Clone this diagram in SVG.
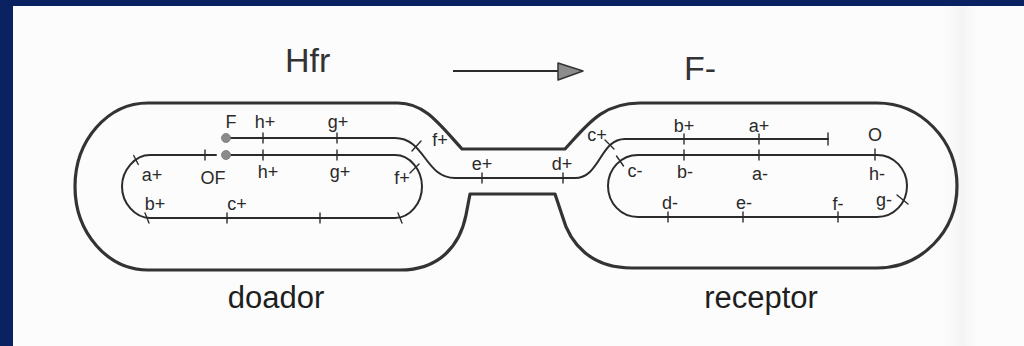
<svg xmlns="http://www.w3.org/2000/svg" width="1024" height="346" viewBox="0 0 1024 346">
  <defs>
    <style>
      .outline { fill: none; stroke: #333; stroke-width: 3.2; stroke-linejoin: round; }
      .dna { fill: none; stroke: #2b2b2b; stroke-width: 2; stroke-linecap: round; }
      .tick { fill: none; stroke: #2b2b2b; stroke-width: 1.4; stroke-linecap: round; }
      .lbl { font-family: "Liberation Sans", Arial, sans-serif; font-size: 18px; fill: #2a2a2a; text-anchor: middle; }
      .title { font-family: "Liberation Sans", Arial, sans-serif; font-size: 34px; fill: #333; }
      .cap { font-family: "Liberation Sans", Arial, sans-serif; font-size: 31px; fill: #1e1e1e; text-anchor: middle; }
      .origin { fill: #8a8a8a; stroke: #777; stroke-width: 0.8; }
    </style>
    <linearGradient id="shade" x1="0" y1="0" x2="1" y2="0">
      <stop offset="0" stop-color="#ffffff" stop-opacity="0"/>
      <stop offset="0.55" stop-color="#ececec" stop-opacity="0.55"/>
      <stop offset="1" stop-color="#ffffff" stop-opacity="0"/>
    </linearGradient>
  </defs>

  <!-- page and frame -->
  <rect x="0" y="0" width="1024" height="346" fill="#fcfcfc"/>
  <rect x="935" y="0" width="50" height="346" fill="url(#shade)"/>
  <rect x="0" y="0" width="1024" height="6" fill="#0a2262"/>
  <rect x="0" y="0" width="13" height="346" fill="#0a2262"/>

  <!-- titles -->
  <g id="titles">
    <text class="title" x="285" y="72">Hfr</text>
    <text class="title" x="684" y="80">F-</text>
  </g>

  <!-- conjugating pair: donor and recipient joined by a bridge -->
  <g id="cell-pair">
    <path class="outline" d="M 148,103 L 398,103 C 425,103 440,125 462,149 L 565,149 C 587,125 602,103 640,103 L 877,103 C 921,103 957,140 957,186 C 957,232 921,268 877,268 L 632,268 C 592,268 570,245 562,215 L 555,194 L 470,194 L 466,215 C 460,245 440,270 400,270 L 148,270 C 108,270 75,233 75,186.5 C 75,140 108,103 148,103 Z"/>
  </g>

  <!-- donor chromosome (circular, opened at the origin) -->
  <g id="donor-chromosome">
    <path class="dna" d="M 231,155 L 395,155 C 410,155 422,170 422,186.5 C 422,203 410,218 395,218 L 150,218 C 135,218 122,203 122,186.5 C 122,170 135,155 150,155 L 216,155"/>
    <line class="tick" x1="133.7" y1="155.5" x2="138.3" y2="164.5"/>
    <line class="tick" x1="205" y1="150" x2="205" y2="160"/>
    <line class="tick" x1="263" y1="150" x2="263" y2="160"/>
    <line class="tick" x1="337" y1="150" x2="337" y2="160"/>
    <line class="tick" x1="410" y1="173" x2="419" y2="164"/>
    <line class="tick" x1="145" y1="213" x2="149" y2="223"/>
    <line class="tick" x1="227" y1="213" x2="227" y2="223"/>
    <line class="tick" x1="320" y1="213" x2="320" y2="223"/>
    <line class="tick" x1="398" y1="213" x2="402" y2="223"/>
    <circle class="origin" cx="226" cy="155" r="4.5"/>
    <text class="lbl" x="152" y="181">a+</text>
    <text class="lbl" x="213" y="184">OF</text>
    <text class="lbl" x="268" y="178">h+</text>
    <text class="lbl" x="340" y="178">g+</text>
    <text class="lbl" x="402" y="184">f+</text>
    <text class="lbl" x="155" y="210">b+</text>
    <text class="lbl" x="237" y="210">c+</text>
  </g>

  <!-- strand transferred through the bridge -->
  <g id="transfer-strand">
    <path class="dna" d="M 226,138 L 395,138 C 425,138 425,178 455,178 L 575,178 C 600,178 600,139 625,139 L 828,139"/>
    <line class="tick" x1="263" y1="133" x2="263" y2="143"/>
    <line class="tick" x1="337" y1="133" x2="337" y2="143"/>
    <line class="tick" x1="412" y1="151" x2="421" y2="141"/>
    <line class="tick" x1="482" y1="173" x2="482" y2="183"/>
    <line class="tick" x1="563" y1="173" x2="563" y2="183"/>
    <line class="tick" x1="605" y1="140" x2="614" y2="149"/>
    <line class="tick" x1="684" y1="134" x2="684" y2="144"/>
    <line class="tick" x1="759" y1="134" x2="759" y2="144"/>
    <line class="tick" x1="828" y1="133" x2="828" y2="145"/>
    <circle class="origin" cx="226" cy="138" r="4.5"/>
    <text class="lbl" x="231" y="128">F</text>
    <text class="lbl" x="265" y="128">h+</text>
    <text class="lbl" x="338" y="128">g+</text>
    <text class="lbl" x="440" y="146">f+</text>
    <text class="lbl" x="482" y="170">e+</text>
    <text class="lbl" x="562" y="170">d+</text>
    <text class="lbl" x="597" y="141">c+</text>
    <text class="lbl" x="684" y="132">b+</text>
    <text class="lbl" x="759" y="132">a+</text>
  </g>

  <!-- recipient chromosome -->
  <g id="recipient-chromosome">
    <path class="dna" d="M 638,155 L 877,155 C 894,155 907,169 907,186 C 907,203 894,217 877,217 L 638,217 C 621,217 608,203 608,186 C 608,169 621,155 638,155 Z"/>
    <line class="tick" x1="616.5" y1="156" x2="623.5" y2="166"/>
    <line class="tick" x1="684" y1="150" x2="684" y2="160"/>
    <line class="tick" x1="759" y1="150" x2="759" y2="160"/>
    <line class="tick" x1="875" y1="149" x2="875" y2="160"/>
    <line class="tick" x1="897" y1="195" x2="908" y2="204"/>
    <line class="tick" x1="668" y1="212" x2="668" y2="222"/>
    <line class="tick" x1="743" y1="212" x2="743" y2="222"/>
    <line class="tick" x1="838" y1="212" x2="838" y2="222"/>
    <text class="lbl" x="875" y="141">O</text>
    <text class="lbl" x="635" y="177">c-</text>
    <text class="lbl" x="685" y="178">b-</text>
    <text class="lbl" x="760" y="180">a-</text>
    <text class="lbl" x="877" y="180">h-</text>
    <text class="lbl" x="670" y="209">d-</text>
    <text class="lbl" x="744" y="209">e-</text>
    <text class="lbl" x="838" y="210">f-</text>
    <text class="lbl" x="884" y="206">g-</text>
  </g>

  <!-- cell captions -->
  <g id="captions">
    <text class="cap" x="276" y="308">doador</text>
    <text class="cap" x="761" y="308">receptor</text>
  </g>

  <!-- transfer direction -->
  <g id="connectors">
    <line x1="453" y1="71" x2="560" y2="71" stroke="#2b2b2b" stroke-width="2"/>
    <polygon points="558,63 583,71 558,80" fill="#8c8c8c" stroke="#333" stroke-width="1.5" stroke-linejoin="round"/>
  </g>
</svg>
